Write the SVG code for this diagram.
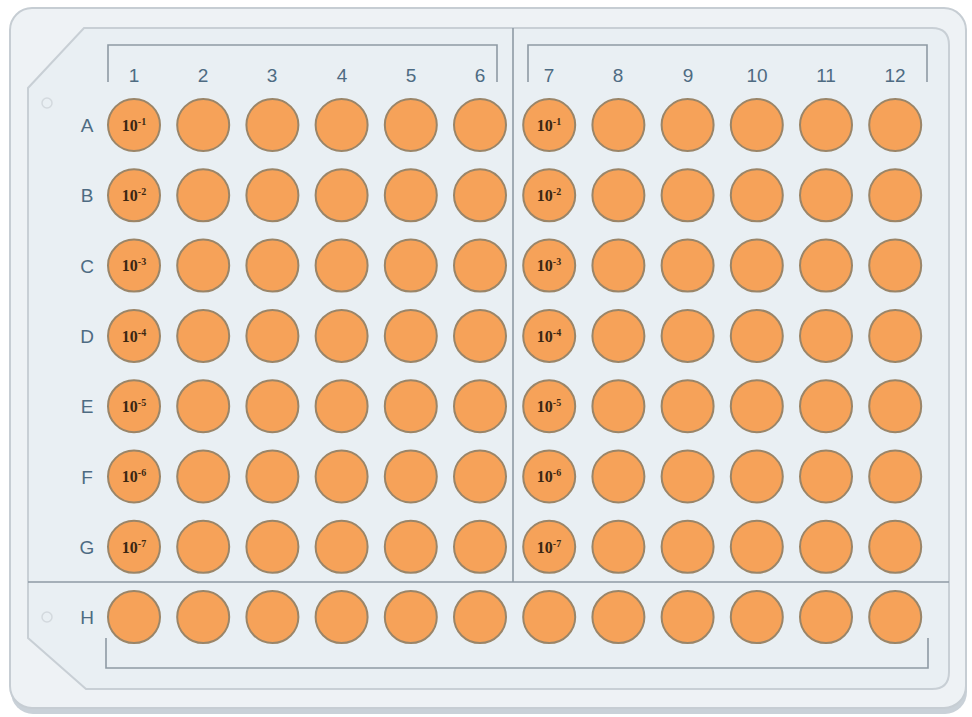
<svg xmlns="http://www.w3.org/2000/svg" width="972" height="717" viewBox="0 0 972 717">
<style>
.well{fill:#f6a259;stroke:#9a8568;stroke-width:2}
.lbl{font-family:"Liberation Sans",Arial,sans-serif;font-size:19px;fill:#4e6b82;text-anchor:middle}
.dil{font-family:"Liberation Serif","Times New Roman",serif;font-size:16px;font-weight:bold;fill:#3b2712;text-anchor:middle}
.sup{font-size:10px}
.ln{fill:none;stroke:#8e9aa4;stroke-width:1.6}
.hole{fill:none;stroke:#d3d9de;stroke-width:1.5}
</style>
<rect width="972" height="717" fill="#ffffff"/>
<rect x="11" y="12" width="956" height="702" rx="22" fill="#c9d1d8"/>
<rect x="10" y="8" width="956" height="700" rx="22" fill="#eef2f5" stroke="#c6cdd3" stroke-width="2"/>
<path d="M84,28 H932 Q949,28 949,45 V672 Q949,689 932,689 H86 L28,638 V88 Z" fill="#e9eff3" stroke="#c8cfd5" stroke-width="2"/>
<g id="frame">
<line class="ln" x1="513" y1="28" x2="513" y2="582"/>
<line class="ln" x1="28" y1="582" x2="949" y2="582"/>
<path class="ln" d="M108,82 V45 H497 V82"/>
<path class="ln" d="M528,82 V45 H927 V82"/>
<path class="ln" d="M106,638 V668 H928 V638"/>
<circle class="hole" cx="47" cy="103" r="5"/>
<circle class="hole" cx="47" cy="617" r="5"/>
</g>
<g id="col-labels">
<text class="lbl" x="134" y="82">1</text>
<text class="lbl" x="203" y="82">2</text>
<text class="lbl" x="272" y="82">3</text>
<text class="lbl" x="342" y="82">4</text>
<text class="lbl" x="411" y="82">5</text>
<text class="lbl" x="480" y="82">6</text>
<text class="lbl" x="549" y="82">7</text>
<text class="lbl" x="618" y="82">8</text>
<text class="lbl" x="688" y="82">9</text>
<text class="lbl" x="757" y="82">10</text>
<text class="lbl" x="826" y="82">11</text>
<text class="lbl" x="895" y="82">12</text>
</g>
<g id="row-labels">
<text class="lbl" x="87" y="132">A</text>
<text class="lbl" x="87" y="202">B</text>
<text class="lbl" x="87" y="273">C</text>
<text class="lbl" x="87" y="343">D</text>
<text class="lbl" x="87" y="413">E</text>
<text class="lbl" x="87" y="484">F</text>
<text class="lbl" x="87" y="554">G</text>
<text class="lbl" x="87" y="624">H</text>
</g>
<defs>
<g id="row">
<circle class="well" cx="134" cy="0" r="26"/>
<circle class="well" cx="203.2" cy="0" r="26"/>
<circle class="well" cx="272.4" cy="0" r="26"/>
<circle class="well" cx="341.6" cy="0" r="26"/>
<circle class="well" cx="410.8" cy="0" r="26"/>
<circle class="well" cx="480" cy="0" r="26"/>
<circle class="well" cx="549.2" cy="0" r="26"/>
<circle class="well" cx="618.4" cy="0" r="26"/>
<circle class="well" cx="687.6" cy="0" r="26"/>
<circle class="well" cx="756.8" cy="0" r="26"/>
<circle class="well" cx="826" cy="0" r="26"/>
<circle class="well" cx="895.2" cy="0" r="26"/>
</g>
</defs>
<g id="wells">
<use href="#row" y="125"/>
<use href="#row" y="195.3"/>
<use href="#row" y="265.6"/>
<use href="#row" y="335.9"/>
<use href="#row" y="406.2"/>
<use href="#row" y="476.5"/>
<use href="#row" y="546.8"/>
<use href="#row" y="617.1"/>
</g>
<g id="dilutions">
<text class="dil" x="134" y="131">10<tspan class="sup" dy="-6">-1</tspan></text>
<text class="dil" x="134" y="201">10<tspan class="sup" dy="-6">-2</tspan></text>
<text class="dil" x="134" y="271">10<tspan class="sup" dy="-6">-3</tspan></text>
<text class="dil" x="134" y="342">10<tspan class="sup" dy="-6">-4</tspan></text>
<text class="dil" x="134" y="412">10<tspan class="sup" dy="-6">-5</tspan></text>
<text class="dil" x="134" y="482">10<tspan class="sup" dy="-6">-6</tspan></text>
<text class="dil" x="134" y="553">10<tspan class="sup" dy="-6">-7</tspan></text>
<text class="dil" x="549" y="131">10<tspan class="sup" dy="-6">-1</tspan></text>
<text class="dil" x="549" y="201">10<tspan class="sup" dy="-6">-2</tspan></text>
<text class="dil" x="549" y="271">10<tspan class="sup" dy="-6">-3</tspan></text>
<text class="dil" x="549" y="342">10<tspan class="sup" dy="-6">-4</tspan></text>
<text class="dil" x="549" y="412">10<tspan class="sup" dy="-6">-5</tspan></text>
<text class="dil" x="549" y="482">10<tspan class="sup" dy="-6">-6</tspan></text>
<text class="dil" x="549" y="553">10<tspan class="sup" dy="-6">-7</tspan></text>
</g>
</svg>
